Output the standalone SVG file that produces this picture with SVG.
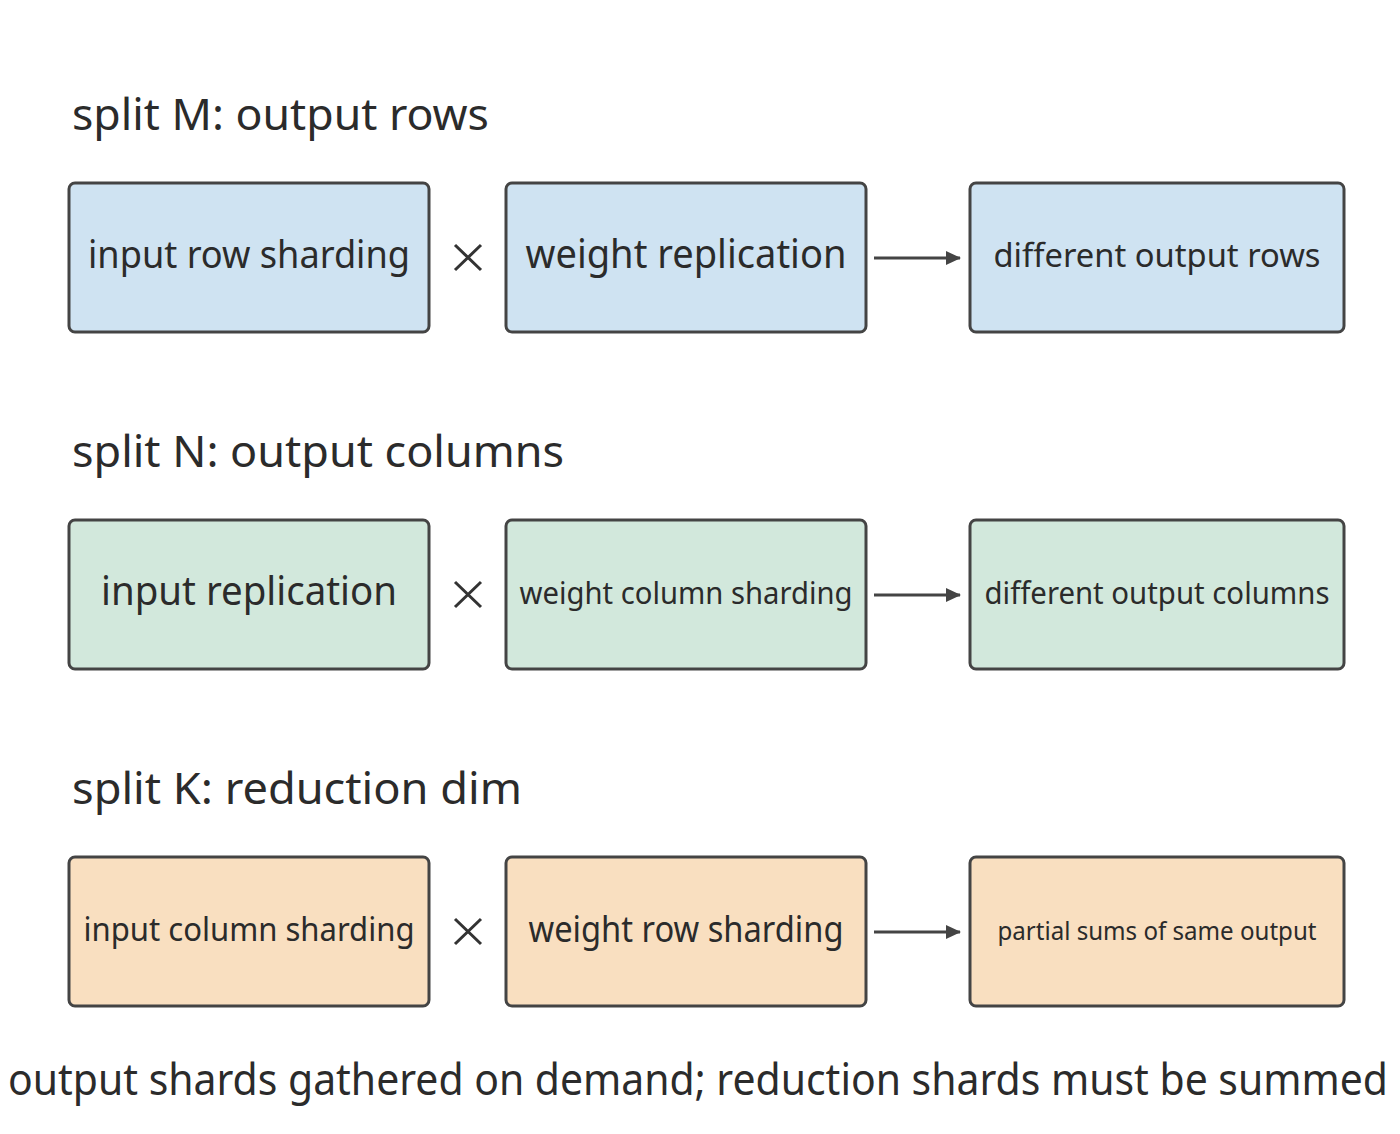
<svg xmlns="http://www.w3.org/2000/svg" width="1400" height="1134" viewBox="0 0 1400 1134">
<style>
text{font-family:"Noto Sans","Open Sans",sans-serif;fill:#2b2b2b}
.t{font-size:44px}
.b{stroke:#444;stroke-width:3}
.m{fill:#cfe3f2}.n{fill:#d2e8dc}.k{fill:#f9dfc0}
.x{stroke:#333;stroke-width:3}
.c{stroke:#444;stroke-width:3;fill:none}
</style>
<defs><marker id="a" markerWidth="16" markerHeight="16" refX="14" refY="8" orient="auto" markerUnits="userSpaceOnUse"><path d="M0,1L15,8L0,15z" fill="#444"/></marker></defs>
<rect width="1400" height="1134" fill="#fff"/>
<text class="t" x="72" y="130" textLength="417" lengthAdjust="spacingAndGlyphs">split M: output rows</text>
<text class="t" x="72" y="467" textLength="492" lengthAdjust="spacingAndGlyphs">split N: output columns</text>
<text class="t" x="72" y="804" textLength="450" lengthAdjust="spacingAndGlyphs">split K: reduction dim</text>
<g id="m1"><rect class="b m" x="69" y="183" width="360" height="149" rx="6"/><text x="249" y="268" font-size="38" text-anchor="middle" textLength="322" lengthAdjust="spacingAndGlyphs">input row sharding</text></g>
<g id="m2"><rect class="b m" x="506" y="183" width="360" height="149" rx="6"/><text x="686" y="268" font-size="40" text-anchor="middle" textLength="321" lengthAdjust="spacingAndGlyphs">weight replication</text></g>
<g id="m3"><rect class="b m" x="970" y="183" width="374" height="149" rx="6"/><text x="1157" y="267" font-size="33" text-anchor="middle" textLength="327" lengthAdjust="spacingAndGlyphs">different output rows</text></g>
<g id="n1"><rect class="b n" x="69" y="520" width="360" height="149" rx="6"/><text x="249" y="605" font-size="40" text-anchor="middle" textLength="296" lengthAdjust="spacingAndGlyphs">input replication</text></g>
<g id="n2"><rect class="b n" x="506" y="520" width="360" height="149" rx="6"/><text x="686" y="604" font-size="31" text-anchor="middle" textLength="333" lengthAdjust="spacingAndGlyphs">weight column sharding</text></g>
<g id="n3"><rect class="b n" x="970" y="520" width="374" height="149" rx="6"/><text x="1157" y="604" font-size="31" text-anchor="middle" textLength="345" lengthAdjust="spacingAndGlyphs">different output columns</text></g>
<g id="k1"><rect class="b k" x="69" y="857" width="360" height="149" rx="6"/><text x="249" y="941" font-size="32" text-anchor="middle" textLength="331" lengthAdjust="spacingAndGlyphs">input column sharding</text></g>
<g id="k2"><rect class="b k" x="506" y="857" width="360" height="149" rx="6"/><text x="686" y="942" font-size="36" text-anchor="middle" textLength="315" lengthAdjust="spacingAndGlyphs">weight row sharding</text></g>
<g id="k3"><rect class="b k" x="970" y="857" width="374" height="149" rx="6"/><text x="1157" y="940" font-size="26" text-anchor="middle" textLength="319" lengthAdjust="spacingAndGlyphs">partial sums of same output</text></g>
<g id="ops">
<path class="x" d="M455,245L481,270M481,245L455,270M455,582L481,607M481,582L455,607M455,919L481,944M481,919L455,944"/>
</g>
<g id="connectors">
<line class="c" x1="874" y1="258" x2="960" y2="258" marker-end="url(#a)"/>
<line class="c" x1="874" y1="595" x2="960" y2="595" marker-end="url(#a)"/>
<line class="c" x1="874" y1="932" x2="960" y2="932" marker-end="url(#a)"/>
</g>
<text class="t" x="8" y="1095" font-size="42" textLength="1380" lengthAdjust="spacingAndGlyphs">output shards gathered on demand; reduction shards must be summed</text>
</svg>
